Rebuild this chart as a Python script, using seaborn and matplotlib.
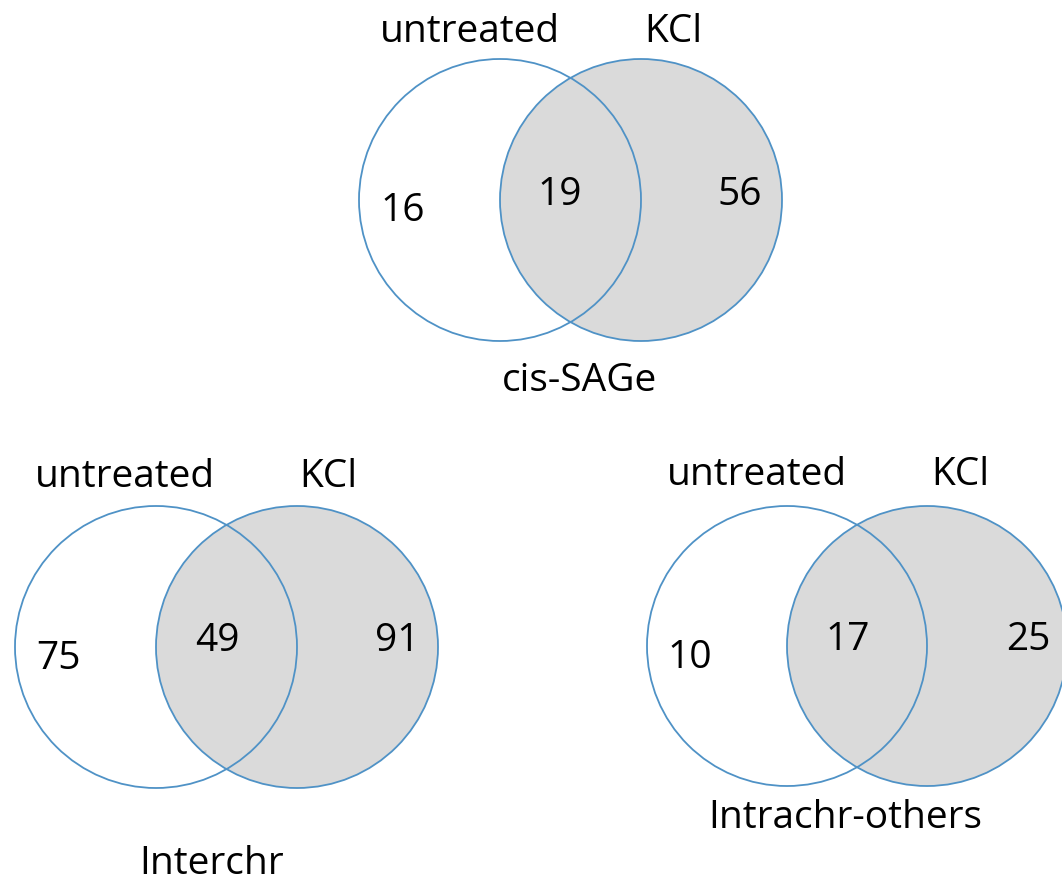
import matplotlib
matplotlib.use("Agg")
import matplotlib.pyplot as plt
from matplotlib.patches import Circle
import seaborn as sns

# ---- data ----
set_labels = ["untreated", "KCl"]
titles = ["cis-SAGe", "Interchr", "Intrachr-others"]
only_untreated = [16, 75, 10]
shared = [19, 49, 17]
only_kcl = [56, 91, 25]

# ---- layout (pixel coordinates of the 1062x886 canvas) ----
panels = [
    dict(cx=500, cy=200, r=141, d=141, lab_y=32, title_xy=(580, 381),
         num_xy=[(403, 211), (560, 195), (740, 195)], lab_x=(470, 673)),
    dict(cx=156, cy=647, r=141, d=141, lab_y=477, title_xy=(212, 864),
         num_xy=[(58, 659), (217, 641), (397, 641)], lab_x=(125, 328)),
    dict(cx=787, cy=646, r=140, d=140, lab_y=475, title_xy=(845, 818),
         num_xy=[(690, 658), (848, 640), (1028, 640)], lab_x=(757, 960)),
]

sns.set_theme(style="white")
plt.rcParams["font.family"] = ["Open Sans", "DejaVu Sans"]

edge = "#4f92c6"
fill = "#dadada"
fs = 28

fig = plt.figure(figsize=(10.62, 8.86), dpi=100)
ax = fig.add_axes([0, 0, 1, 1])
ax.set_xlim(0, 1062)
ax.set_ylim(886, 0)
ax.set_aspect("equal")
ax.axis("off")

for i, p in enumerate(panels):
    cx, cy, r, d = p["cx"], p["cy"], p["r"], p["d"]
    ax.add_patch(Circle((cx + d, cy), r, facecolor=fill, edgecolor="none", zorder=1))
    ax.add_patch(Circle((cx, cy), r, facecolor="none", edgecolor=edge, lw=1.3, zorder=2))
    ax.add_patch(Circle((cx + d, cy), r, facecolor="none", edgecolor=edge, lw=1.3, zorder=2))
    vals = [only_untreated[i], shared[i], only_kcl[i]]
    for (x, y), v in zip(p["num_xy"], vals):
        ax.text(x, y, str(v), ha="center", va="center", fontsize=fs, color="black", zorder=3)
    for x, lab in zip(p["lab_x"], set_labels):
        ax.text(x, p["lab_y"], lab, ha="center", va="center", fontsize=fs, color="black", zorder=3)
    ax.text(*p["title_xy"], titles[i], ha="center", va="center", fontsize=fs, color="black", zorder=3)

fig.savefig("out.png", dpi=100, facecolor="white")
